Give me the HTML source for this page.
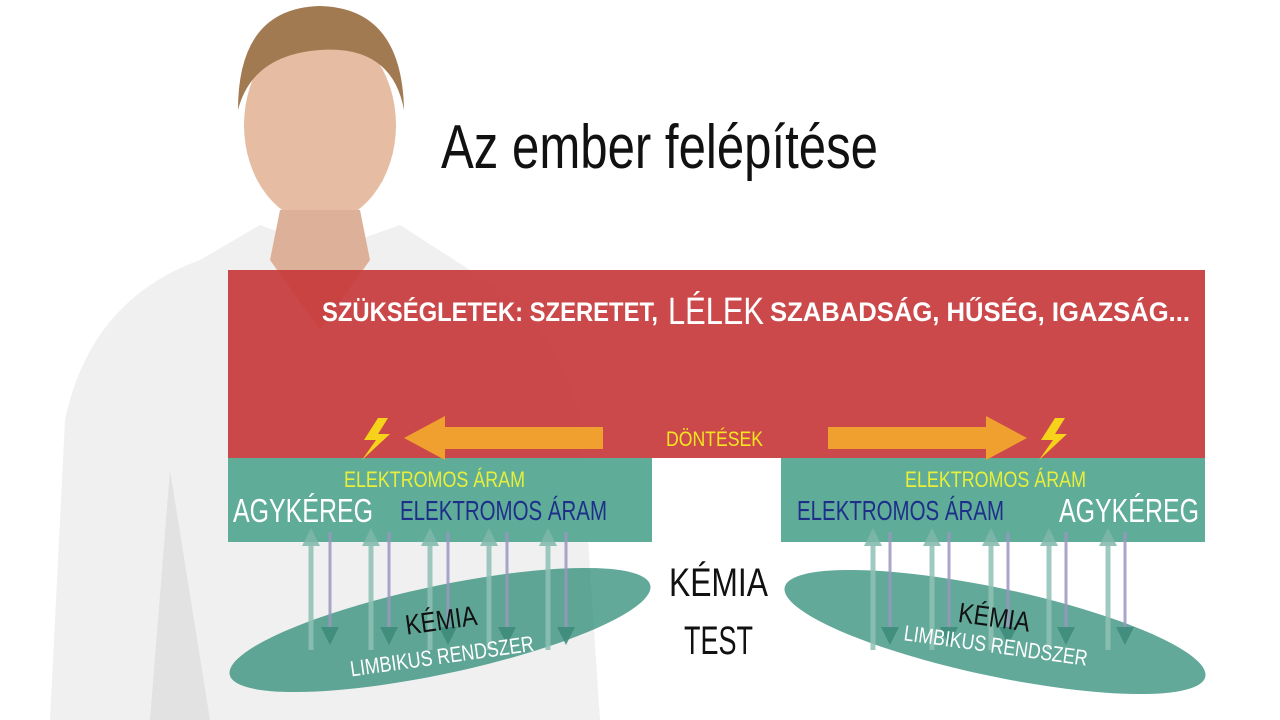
<!DOCTYPE html>
<html><head><meta charset="utf-8"><style>
html,body{margin:0;padding:0;background:#fff;width:1280px;height:720px;overflow:hidden}
svg{display:block}
text{font-family:"Liberation Sans",sans-serif}
</style></head><body>
<svg width="1280" height="720" viewBox="0 0 1280 720" xmlns="http://www.w3.org/2000/svg">
<defs>
<marker id="up" viewBox="0 0 10 10" refX="5" refY="5" markerWidth="3.6" markerHeight="3.6" orient="auto"><path d="M0,0L10,5L0,10z" fill="#7fb8ab"/></marker>
<marker id="dn" viewBox="0 0 10 10" refX="5" refY="5" markerWidth="6" markerHeight="6" orient="auto"><path d="M0,0L10,5L0,10z" fill="#3d8b7c"/></marker>
</defs>
<rect width="1280" height="720" fill="#fff"/>
<!-- person approximation -->
<path d="M50,720 L65,420 Q90,300 200,260 L260,225 L330,250 L400,225 L470,270 Q560,320 580,420 L600,720Z" fill="#f0f0f0"/>
<path d="M150,720 L170,470 L210,720Z" fill="#e2e2e2"/>
<ellipse cx="320" cy="125" rx="76" ry="98" fill="#e6bda3"/>
<path d="M238,110 Q238,8 320,6 Q402,8 404,110 Q392,45 320,50 Q252,55 238,110Z" fill="#a27a52"/>
<path d="M280,210 L360,210 L370,260 L320,330 L270,260Z" fill="#ddb099"/>
<!-- red block -->
<rect x="228" y="270" width="977" height="188" fill="#c7393c" opacity="0.92"/>
<!-- teal blocks -->
<rect x="228" y="458" width="424" height="84" fill="#56a894" opacity="0.95"/>
<rect x="781" y="458" width="424" height="84" fill="#56a894" opacity="0.95"/>
<!-- ellipses -->
<ellipse cx="440" cy="630" rx="215" ry="44" transform="rotate(-12 440 630)" fill="#2e8c78" opacity="0.75"/>
<ellipse cx="995" cy="632" rx="215" ry="44" transform="rotate(12 995 632)" fill="#2e8c78" opacity="0.75"/>
<!-- vertical arrows -->
<g stroke-width="5" opacity="0.85">
<g stroke="#8fc1b5" marker-end="url(#up)">
<line x1="311" y1="650" x2="311" y2="537"/><line x1="371" y1="650" x2="371" y2="537"/><line x1="430" y1="650" x2="430" y2="537"/><line x1="489" y1="650" x2="489" y2="537"/><line x1="548" y1="650" x2="548" y2="537"/>
<line x1="873" y1="650" x2="873" y2="537"/><line x1="932" y1="650" x2="932" y2="537"/><line x1="991" y1="650" x2="991" y2="537"/><line x1="1049" y1="650" x2="1049" y2="537"/><line x1="1108" y1="650" x2="1108" y2="537"/>
</g>
<g stroke="#9a97c0" stroke-width="3" marker-end="url(#dn)">
<line x1="330" y1="532" x2="330" y2="636"/><line x1="389" y1="532" x2="389" y2="636"/><line x1="448" y1="532" x2="448" y2="636"/><line x1="507" y1="532" x2="507" y2="636"/><line x1="566" y1="532" x2="566" y2="636"/>
<line x1="890" y1="532" x2="890" y2="636"/><line x1="949" y1="532" x2="949" y2="636"/><line x1="1008" y1="532" x2="1008" y2="636"/><line x1="1066" y1="532" x2="1066" y2="636"/><line x1="1125" y1="532" x2="1125" y2="636"/>
</g>
</g>
<!-- orange arrows -->
<path d="M603,427 L445,427 L445,416 L404,438 L445,460 L445,449 L603,449Z" fill="#f0a02e"/>
<path d="M828,427 L986,427 L986,416 L1027,438 L986,460 L986,449 L828,449Z" fill="#f0a02e"/>
<!-- lightning -->
<path d="M378,418 L364,440 L376,440 L362,460 L390,434 L378,434 L388,418Z" fill="#f7d21a"/>
<path d="M1055,418 L1041,440 L1053,440 L1039,460 L1067,434 L1055,434 L1065,418Z" fill="#f7d21a"/>
<!-- texts -->
<text x="441" y="168" font-size="62" fill="#111" textLength="437" lengthAdjust="spacingAndGlyphs">Az ember felépítése</text>
<text x="322" y="321" font-size="27" font-weight="bold" fill="#fff" textLength="336" lengthAdjust="spacingAndGlyphs">SZÜKSÉGLETEK: SZERETET,</text>
<text x="668" y="324" font-size="38" fill="#fff" textLength="96" lengthAdjust="spacingAndGlyphs">LÉLEK</text>
<text x="770" y="321" font-size="27" font-weight="bold" fill="#fff" textLength="420" lengthAdjust="spacingAndGlyphs">SZABADSÁG, HŰSÉG, IGAZSÁG...</text>
<text x="666" y="446" font-size="21" fill="#f3e61e" textLength="97" lengthAdjust="spacingAndGlyphs">DÖNTÉSEK</text>
<text x="344" y="487" font-size="22" fill="#e8ef3a" textLength="181" lengthAdjust="spacingAndGlyphs">ELEKTROMOS ÁRAM</text>
<text x="905" y="487" font-size="22" fill="#e8ef3a" textLength="181" lengthAdjust="spacingAndGlyphs">ELEKTROMOS ÁRAM</text>
<text x="233" y="522" font-size="33" fill="#fff" textLength="140" lengthAdjust="spacingAndGlyphs">AGYKÉREG</text>
<text x="1059" y="522" font-size="33" fill="#fff" textLength="140" lengthAdjust="spacingAndGlyphs">AGYKÉREG</text>
<text x="400" y="520" font-size="28" fill="#1e2f8a" textLength="207" lengthAdjust="spacingAndGlyphs">ELEKTROMOS ÁRAM</text>
<text x="797" y="520" font-size="28" fill="#1e2f8a" textLength="207" lengthAdjust="spacingAndGlyphs">ELEKTROMOS ÁRAM</text>
<text x="669" y="596" font-size="40" fill="#111" textLength="99" lengthAdjust="spacingAndGlyphs">KÉMIA</text>
<text x="684" y="654" font-size="40" fill="#111" textLength="69" lengthAdjust="spacingAndGlyphs">TEST</text>
<g transform="rotate(-8 440 620)"><text x="405" y="630" font-size="28" fill="#111" textLength="72" lengthAdjust="spacingAndGlyphs">KÉMIA</text></g>
<g transform="rotate(-8 440 660)"><text x="350" y="664" font-size="22" fill="#fff" textLength="185" lengthAdjust="spacingAndGlyphs">LIMBIKUS RENDSZER</text></g>
<g transform="rotate(8 995 620)"><text x="958" y="627" font-size="28" fill="#111" textLength="72" lengthAdjust="spacingAndGlyphs">KÉMIA</text></g>
<g transform="rotate(8 995 655)"><text x="902" y="653" font-size="22" fill="#fff" textLength="185" lengthAdjust="spacingAndGlyphs">LIMBIKUS RENDSZER</text></g>
</svg>
</body></html>
